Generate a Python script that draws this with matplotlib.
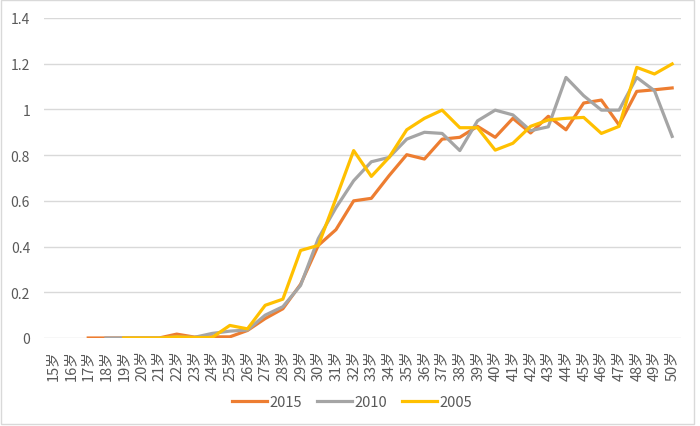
import numpy as np
import matplotlib.pyplot as plt
from matplotlib.patches import Rectangle

plt.rcParams['font.family'] = ['Noto Sans CJK SC', 'DejaVu Sans']

# Ages 15..50
ages = [f'{a}岁' for a in range(15, 51)]
nan = np.nan

# values (missing ages are nan)
y2015 = [nan, nan, 0, 0, 0, 0, 0, 0.017, 0.004, 0.005, 0.005, 0.033, 0.085, 0.128,
         0.235, 0.405, 0.474, 0.6, 0.611, 0.71, 0.802, 0.783, 0.87, 0.878, 0.926,
         0.878, 0.961, 0.897, 0.97, 0.911, 1.028, 1.041, 0.932, 1.079, 1.086, 1.094]
y2010 = [nan, nan, nan, 0, 0, 0, 0, 0.005, 0.003, 0.02, 0.03, 0.035, 0.1, 0.137,
         0.23, 0.435, 0.57, 0.688, 0.771, 0.79, 0.87, 0.9, 0.895, 0.82, 0.95,
         0.997, 0.976, 0.907, 0.924, 1.14, 1.06, 0.997, 0.997, 1.14, 1.082, 0.882]
y2005 = [nan, nan, nan, nan, 0, 0, 0, 0.005, 0.002, 0.002, 0.055, 0.04, 0.143, 0.17,
         0.383, 0.405, 0.61, 0.82, 0.707, 0.79, 0.911, 0.961, 0.997, 0.92, 0.92,
         0.822, 0.852, 0.926, 0.954, 0.961, 0.965, 0.895, 0.926, 1.184, 1.155, 1.199]

series = [('2015', y2015, '#ED7D31'),
          ('2010', y2010, '#A5A5A5'),
          ('2005', y2005, '#FFC000')]

fig = plt.figure(figsize=(7, 4.27), dpi=100)
ax = fig.add_axes([44 / 700, 1 - 339 / 427, (681 - 44) / 700, (339 - 19) / 427])

x = np.arange(len(ages))
for name, vals, col in series:
    ax.plot(x, vals, color=col, lw=2.3, label=name, solid_joinstyle='round')

ax.set_xlim(-0.5, len(ages) - 0.5)
ax.set_ylim(0, 1.4)
yt = np.arange(0, 1.41, 0.2)
ax.set_yticks(yt)
ax.set_yticklabels([f'{v:g}' for v in np.round(yt, 1)])
ax.set_xticks(x)
ax.set_xticklabels(ages, rotation=90)
ax.tick_params(length=0, labelsize=10, labelcolor='#595959')
ax.tick_params(axis='y', pad=10)
ax.tick_params(axis='x', pad=8, labelsize=10.5)
ax.grid(axis='y', color='#D9D9D9', lw=1)
ax.set_axisbelow(True)
for s in ax.spines.values():
    s.set_visible(False)

leg = fig.legend(loc='center', bbox_to_anchor=(352 / 700, 1 - 403 / 427), ncol=3,
                 frameon=False, fontsize=10.5, handlelength=2.4, handletextpad=0.2,
                 columnspacing=1.0)
for t in leg.get_texts():
    t.set_color('#595959')

fig.patches.append(Rectangle((1 / 700, 2 / 427), 693 / 700, 424 / 427,
                             transform=fig.transFigure, fill=False,
                             edgecolor='#D9D9D9', lw=1))

fig.savefig('out.png', dpi=100)
